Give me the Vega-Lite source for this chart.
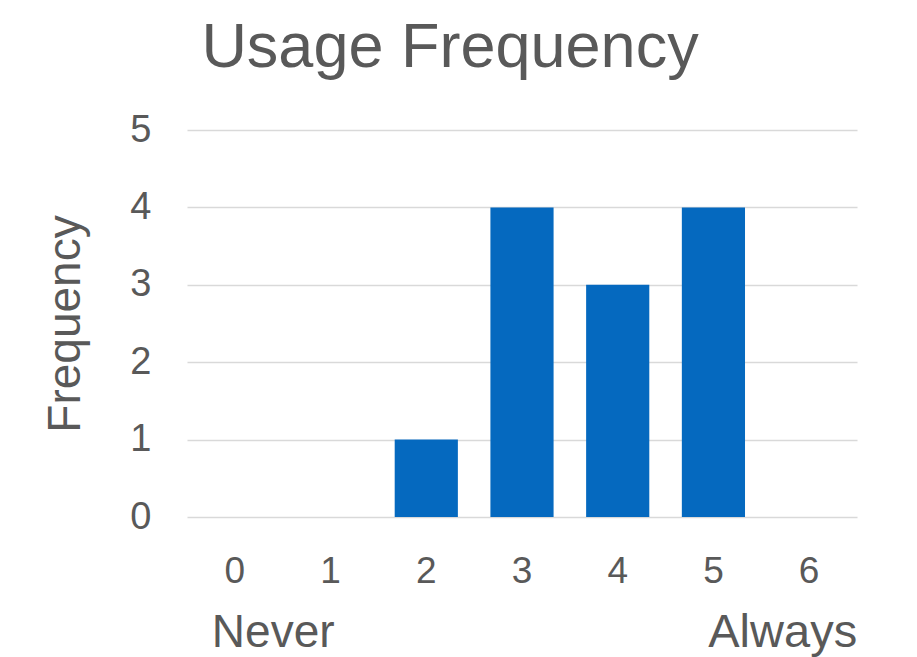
{
  "$schema": "https://vega.github.io/schema/vega-lite/v6.json",
  "width": 670,
  "height": 387,
  "autosize": {"type": "none"},
  "padding": {"left": 187, "top": 130, "right": 60, "bottom": 140},
  "background": "white",
  "config": {
    "view": {"stroke": null},
    "font": "Liberation Sans",
    "text": {"font": "Liberation Sans"}
  },
  "title": {
    "text": "Usage Frequency",
    "fontSize": 63,
    "font": "Liberation Sans",
    "fontWeight": "normal",
    "color": "#595959",
    "anchor": "middle",
    "frame": "group",
    "dx": -72,
    "baseline": "alphabetic",
    "offset": -19
  },
  "data": {
    "values": [
      {"rating": 0, "count": 0},
      {"rating": 1, "count": 0},
      {"rating": 2, "count": 1},
      {"rating": 3, "count": 4},
      {"rating": 4, "count": 3},
      {"rating": 5, "count": 4},
      {"rating": 6, "count": 0}
    ]
  },
  "layer": [
    {
      "mark": {"type": "bar", "color": "#0569BF"},
      "encoding": {
        "x": {
          "field": "rating",
          "type": "ordinal",
          "scale": {"paddingInner": 0.34, "paddingOuter": 0.17},
          "axis": {
            "title": null,
            "labelAngle": 0,
            "labelFontSize": 37,
            "labelColor": "#595959",
            "labelFont": "Liberation Sans",
            "labelPadding": 36,
            "ticks": false,
            "domain": false,
            "grid": false
          }
        },
        "y": {
          "field": "count",
          "type": "quantitative",
          "scale": {"domain": [0, 5]},
          "axis": {
            "title": "Frequency",
            "titleFontSize": 46,
            "titleFont": "Liberation Sans",
            "titleFontWeight": "normal",
            "titleColor": "#595959",
            "titlePadding": 40,
            "values": [0, 1, 2, 3, 4, 5],
            "format": "d",
            "labelFontSize": 38,
            "labelColor": "#595959",
            "labelFont": "Liberation Sans",
            "labelPadding": 36,
            "ticks": false,
            "domain": false,
            "grid": true,
            "gridColor": "#D9D9D9",
            "gridWidth": 1.5
          }
        }
      }
    },
    {
      "data": {"values": [{"rating": 0, "label": "Never"}]},
      "mark": {"type": "text", "align": "left", "baseline": "middle", "fontSize": 46, "color": "#595959", "dx": -23},
      "encoding": {
        "x": {"field": "rating", "type": "ordinal"},
        "y": {"datum": -1.5},
        "text": {"field": "label"}
      }
    },
    {
      "data": {"values": [{"rating": 6, "label": "Always"}]},
      "mark": {"type": "text", "align": "right", "baseline": "middle", "fontSize": 47, "color": "#595959", "dx": 48},
      "encoding": {
        "x": {"field": "rating", "type": "ordinal"},
        "y": {"datum": -1.5},
        "text": {"field": "label"}
      }
    }
  ]
}
